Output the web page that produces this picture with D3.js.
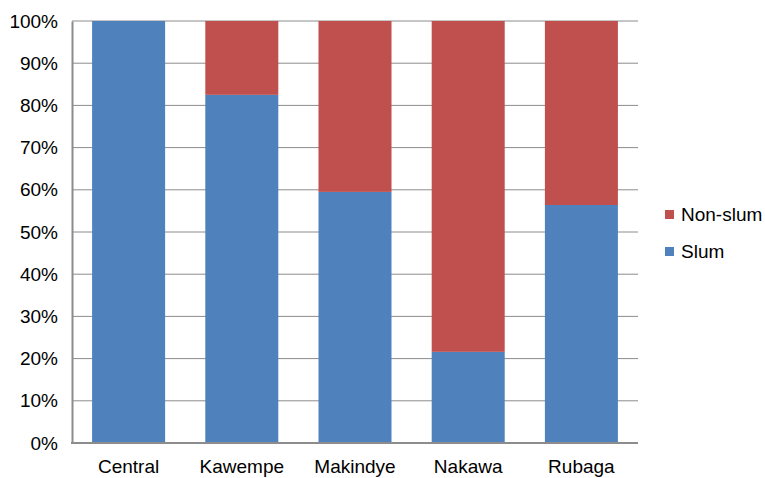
<!DOCTYPE html>
<html><head><meta charset="utf-8">
<script src="https://cdn.jsdelivr.net/npm/d3@7"></script>
<style>body{margin:0;background:#fff}text{font-family:"Liberation Sans",Arial,sans-serif}</style>
</head><body><svg id="c" width="765" height="478"></svg>
<script>
const categories = ["Central","Kawempe","Makindye","Nakawa","Rubaga"];
const slum = [100, 82.5, 59.5, 21.6, 56.4];
const nonSlum = [0, 17.5, 40.5, 78.4, 43.6];
const yTicks = [0,10,20,30,40,50,60,70,80,90,100];
const seriesNames = ["Non-slum","Slum"];
const colors = {"Slum":"#4F81BD","Non-slum":"#C0504D"};

const svg = d3.select("#c");
const L=72, R=638, T=21, B=443;
const x = d3.scaleBand().domain(categories).range([L,R]).paddingInner(0.355).paddingOuter(0.1775);
const y = d3.scaleLinear().domain([0,100]).range([B,T]);

svg.append("g").selectAll("line").data(yTicks.filter(d=>d>0)).join("line")
  .attr("x1",L).attr("x2",R).attr("y1",d=>y(d)).attr("y2",d=>y(d))
  .attr("stroke","#8c8c8c").attr("stroke-width",1);

const rows = categories.map((c,i)=>({c, slum:slum[i], non:nonSlum[i]}));
const g = svg.append("g");
rows.forEach(r=>{
  g.append("rect").attr("x",x(r.c)).attr("width",x.bandwidth())
    .attr("y",y(r.slum)).attr("height",y(0)-y(r.slum)).attr("fill",colors["Slum"]);
  if(r.non>0) g.append("rect").attr("x",x(r.c)).attr("width",x.bandwidth())
    .attr("y",y(r.slum+r.non)).attr("height",y(r.slum)-y(r.slum+r.non)).attr("fill",colors["Non-slum"]);
});

const yAxis = d3.axisLeft(y).tickValues(yTicks).tickSize(0).tickPadding(14).tickFormat(d=>d+"%");
const ya = svg.append("g").attr("transform",`translate(${L},0)`).call(yAxis);
ya.select(".domain").attr("stroke","#8c8c8c").attr("stroke-width",2);
ya.selectAll("text").attr("font-size",19).attr("fill","#000").attr("font-family","Liberation Sans, Arial, sans-serif");

const xAxis = d3.axisBottom(x).tickSize(0).tickPadding(17);
const xa = svg.append("g").attr("transform",`translate(0,${B})`).call(xAxis);
xa.select(".domain").attr("stroke","#8c8c8c").attr("stroke-width",2).attr("d",`M${L-1},0H${R}`);
xa.selectAll("text").attr("font-size",19).attr("fill","#000").attr("font-family","Liberation Sans, Arial, sans-serif");

const lg = svg.append("g");
seriesNames.forEach((s,i)=>{
  const yy = 210 + i*37;
  lg.append("rect").attr("x",665).attr("y",yy).attr("width",9).attr("height",9).attr("fill",colors[s]);
  lg.append("text").attr("x",681).attr("y",yy+11).attr("font-size",19).attr("fill","#000").text(s);
});
</script></body></html>
